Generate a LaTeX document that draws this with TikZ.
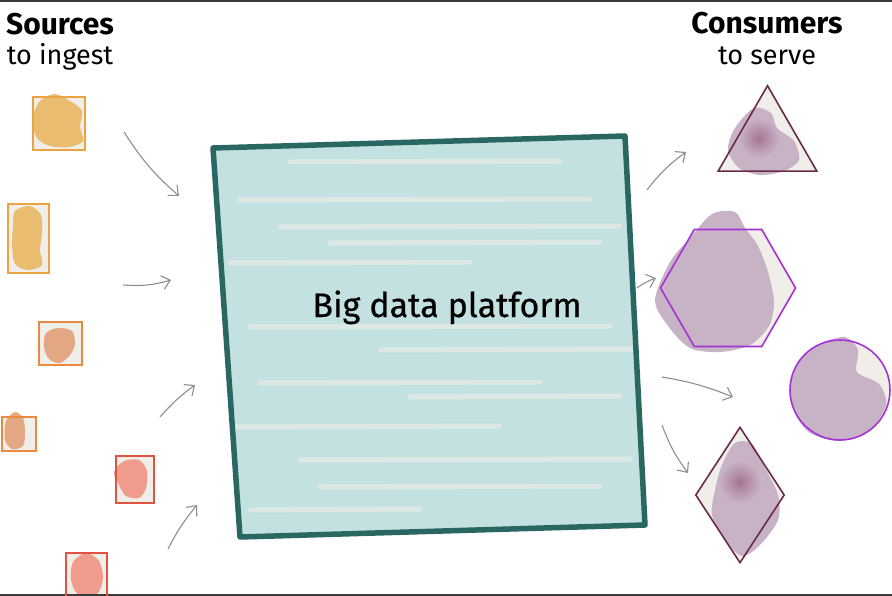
\documentclass[tikz,border=0pt]{standalone}
\usepackage{fontspec}
\setmainfont{Fira Sans}
\usetikzlibrary{positioning}
\usetikzlibrary{arrows.meta}
\usetikzlibrary{shapes.geometric}

\definecolor{paper}{HTML}{EFEEE9}
\definecolor{framegray}{HTML}{3B3B3B}
\definecolor{arrowgray}{HTML}{8F8F88}
\definecolor{plum}{HTML}{6B2C4C}
\definecolor{violetline}{HTML}{A433D6}
\definecolor{platformline}{HTML}{2A6662}
\definecolor{platformfill}{HTML}{C2E1E0}
\definecolor{goldline}{HTML}{E9A441}
\definecolor{goldwash}{HTML}{E8B45A}
\definecolor{orangeline}{HTML}{E98A3E}
\definecolor{orangewash}{HTML}{E29B72}
\definecolor{redline}{HTML}{E05340}
\definecolor{redwash}{HTML}{EF8E7E}
\definecolor{plumwash}{HTML}{9C6686}
\definecolor{lilacwash}{HTML}{C8B2C6}

\pgfdeclarelayer{paperlayer}
\pgfdeclarelayer{washlayer}
\pgfsetlayers{paperlayer,washlayer,main}

\begin{document}
\begin{tikzpicture}[x=1pt,y=-1pt,
  srcbox/.style={draw,line width=1.6pt,inner sep=0pt},
  usrshape/.style={draw,line width=1.6pt,inner sep=0pt},
  wash/.style={fill=#1,fill opacity=.85},
  core/.style={inner color=plumwash!80!lilacwash,outer color=lilacwash},
  flow/.style={arrowgray,line width=1.1pt,-{Straight Barb[length=8pt,width=14pt]}},
  title/.style={font=\fontsize{30}{30}\selectfont\bfseries,anchor=base,inner sep=0pt},
  subtitle/.style={font=\fontsize{27}{27}\selectfont,anchor=base,inner sep=0pt}]
  \useasboundingbox (0,0) rectangle (892,596);
  \fill[framegray] (0,0) rectangle (892,2);
  \fill[framegray] (0,593.5) rectangle (892,596);

  % headings
  \node[title] (srctitle) at (60,35) {Sources};
  \node[subtitle] (srcsub) at (60,65) {to ingest};
  \node[title] (usrtitle) at (767,34) {Consumers};
  \node[subtitle] (usrsub) at (767,65) {to serve};

  % sources
  \node[srcbox,draw=goldline,minimum width=52,minimum height=53] (src1) at (59,123.5) {};
  \node[srcbox,draw=goldline,minimum width=41,minimum height=69] (src2) at (28.5,238.5) {};
  \node[srcbox,draw=orangeline,minimum width=43,minimum height=43] (src3) at (60.5,343.5) {};
  \node[srcbox,draw=orangeline,minimum width=34,minimum height=34] (src4) at (19,434) {};
  \node[srcbox,draw=redline,minimum width=38,minimum height=47] (src5) at (135,479.5) {};
  \node[srcbox,draw=redline,minimum width=41,minimum height=44] (src6) at (86.5,575) {};

  % consumers
  \node[usrshape,draw=plum,regular polygon,regular polygon sides=3,minimum size=114] (tri) at (767.5,142.7) {};
  \node[usrshape,draw=violetline,regular polygon,regular polygon sides=6,minimum size=135] (hex) at (728,288) {};
  \node[usrshape,draw=violetline,circle,minimum size=100] (disc) at (840,390) {};
  \node[usrshape,draw=plum,diamond,minimum width=89,minimum height=136] (dia) at (740,495) {};

  \begin{pgfonlayer}{paperlayer}
    \foreach \n in {src1,src2,src3,src4,src5,src6}
      \fill[paper] (\n.south west) rectangle (\n.north east);
    \fill[paper] (tri.corner 1) -- (tri.corner 2) -- (tri.corner 3) -- cycle;
    \fill[paper] (hex.corner 1) -- (hex.corner 2) -- (hex.corner 3) -- (hex.corner 4) -- (hex.corner 5) -- (hex.corner 6) -- cycle;
    \fill[paper] (disc) circle[radius=50];
    \fill[paper] (dia.north) -- (dia.east) -- (dia.south) -- (dia.west) -- cycle;
  \end{pgfonlayer}

  % watercolour washes
  \begin{pgfonlayer}{washlayer}
    \fill[wash=goldwash] plot[smooth cycle] coordinates {(40,101) (55,94) (70,101) (82,111) (80,127) (83,141) (69,147) (50,146) (37,138) (32,120)};
    \fill[wash=goldwash] plot[smooth cycle] coordinates {(15,211) (30,206) (41,215) (42,232) (40,250) (42,265) (28,270) (15,264) (12,245) (13,226)};
    \fill[wash=orangewash] plot[smooth cycle] coordinates {(46,333) (58,328) (72,331) (75,344) (70,355) (60,363) (49,359) (44,347)};
    \fill[wash=orangewash] plot[smooth cycle] coordinates {(6,421) (15,412) (23,418) (25,432) (23,446) (12,449) (5,440)};
    \fill[wash=redwash] plot[smooth cycle] coordinates {(114,472) (124,461) (139,460) (147,471) (146,488) (139,498) (126,496) (119,485)};
    \fill[wash=redwash] plot[smooth cycle] coordinates {(73,562) (86,553) (99,561) (103,578) (97,594) (78,594) (71,580)};
    \fill[lilacwash] plot[smooth cycle] coordinates {(735,128) (754,108) (771,113) (777,128) (794,141) (799,160) (784,171) (760,175) (739,168) (728,150)};
    \shade[core] (759,138) circle[radius=20];
    \fill[lilacwash] plot[smooth cycle] coordinates {(670,262) (690,238) (712,214) (735,212) (745,228) (758,246) (768,272) (774,302) (769,326) (750,345) (720,352) (690,348) (668,326) (655,300)};
    \fill[lilacwash] plot[smooth cycle] coordinates {(800,360) (820,344) (845,337) (858,350) (857,372) (879,384) (886,405) (870,430) (840,441) (810,433) (795,413) (790,385)};
    \fill[lilacwash] plot[smooth cycle] coordinates {(735,443) (752,444) (766,470) (778,495) (778,520) (760,545) (742,556) (725,540) (712,515) (715,490) (722,465)};
    \shade[core] (740,482) circle[radius=21];
  \end{pgfonlayer}

  % platform
  \coordinate (ptl) at (213,148);
  \coordinate (ptr) at (625,136);
  \coordinate (pbr) at (645,525);
  \coordinate (pbl) at (240,537);
  \begin{scope}
    \clip (ptl) -- (ptr) -- (pbr) -- (pbl) -- cycle;
    \fill[platformfill] (ptl) -- (ptr) -- (pbr) -- (pbl) -- cycle;
    \foreach \y/\a/\b in {162/290/560,200/240/590,227/280/620,243/330/600,263/230/470,327/250/610,350/380/640,383/260/540,397/410/620,427/230/500,460/300/630,487/320/600,510/250/420}
      \draw[paper,line width=5pt,opacity=.6,line cap=round] (\a,\y) -- (\b,\y-1);
  \end{scope}
  \draw[platformline,line width=5.5pt,line join=round] (ptl) -- (ptr) -- (pbr) -- (pbl) -- cycle;
  \node[font=\fontsize{34}{34}\selectfont\addfontfeature{FakeBold=0.6},anchor=base,inner sep=0pt] (platform) at (447,317) {Big data platform};

  % arrows in
  \coordinate (in1a) at (124,132);  \coordinate (in1b) at (179,196);
  \coordinate (in2a) at (123,285);  \coordinate (in2b) at (171,280);
  \coordinate (in3a) at (160,417);  \coordinate (in3b) at (195,385);
  \coordinate (in4a) at (168,549);  \coordinate (in4b) at (197,505);
  \draw[flow] (in1a) to[bend right=8] (in1b);
  \draw[flow] (in2a) to[bend right=10] (in2b);
  \draw[flow] (in3a) to[bend left=6] (in3b);
  \draw[flow] (in4a) to[bend left=6] (in4b);

  % arrows out
  \coordinate (out1a) at (647,190); \coordinate (out1b) at (686,152);
  \coordinate (out2a) at (637,288); \coordinate (out2b) at (656,278);
  \coordinate (out3a) at (662,377); \coordinate (out3b) at (733,397);
  \coordinate (out4a) at (662,425); \coordinate (out4b) at (688,473);
  \draw[flow] (out1a) to[bend left=8] (out1b);
  \draw[flow] (out2a) to[bend left=8] (out2b);
  \draw[flow] (out3a) to[bend left=6] (out3b);
  \draw[flow] (out4a) to[bend right=8] (out4b);
\end{tikzpicture}
\end{document}
